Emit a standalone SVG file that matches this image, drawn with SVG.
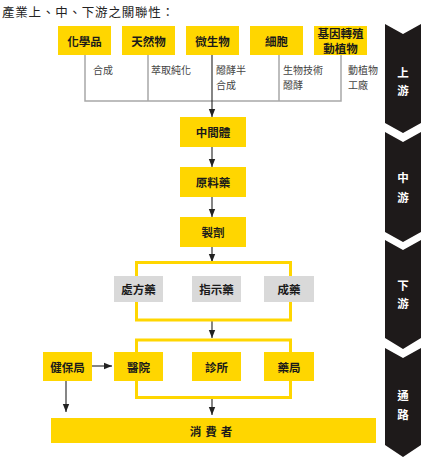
<svg xmlns="http://www.w3.org/2000/svg" width="441" height="459" viewBox="0 0 441 459">
<style>
.y{fill:#FFD600}
.g{fill:#D9D9D9}
.t{font-family:"Noto Sans CJK TC","Noto Sans",sans-serif;font-size:11.5px;font-weight:bold;fill:#1a1a1a;text-anchor:middle;dominant-baseline:central}
.s{font-family:"Noto Sans CJK TC","Noto Sans",sans-serif;font-size:10px;fill:#444;dominant-baseline:central}
.w{font-family:"Noto Sans CJK TC","Noto Sans",sans-serif;font-size:11.5px;font-weight:bold;fill:#fff;text-anchor:middle;dominant-baseline:central}
.gl{stroke:#A8A8A8;stroke-width:1.5;fill:none}
.bl{stroke:#222;stroke-width:1.1;fill:none;marker-end:url(#ah)}
.fr{stroke:#FFD600;stroke-width:3;fill:none}
.band{fill:#1E1A1A}
</style>
<defs>
<marker id="ah" markerUnits="userSpaceOnUse" markerWidth="8" markerHeight="8" viewBox="0 0 8 8" refX="8" refY="4" orient="auto">
<path d="M0,0.8 L8,4 L0,7.2 Z" fill="#222"/>
</marker>
</defs>
<text x="2" y="11" font-family="Noto Sans CJK TC,sans-serif" font-size="12.5" letter-spacing="0.8" fill="#222" dominant-baseline="central">產業上、中、下游之關聯性：</text>

<g id="stage-bands">
<path class="band" d="M385,24 L403,34 L421,24 L421,123 L403,133 L385,123 Z"/>
<path class="band" d="M385,132 L403,142 L421,132 L421,232 L403,242 L385,232 Z"/>
<path class="band" d="M385,240 L403,250 L421,240 L421,338 L403,349 L385,338 Z"/>
<path class="band" d="M385,348 L403,358 L421,348 L421,445 L403,457 L385,445 Z"/>
<text class="w" x="403" y="72">上</text><text class="w" x="403" y="90">游</text>
<text class="w" x="403" y="177">中</text><text class="w" x="403" y="197">游</text>
<text class="w" x="403" y="285">下</text><text class="w" x="403" y="303">游</text>
<text class="w" x="403" y="395">通</text><text class="w" x="403" y="414">路</text>
</g>

<g id="connectors">
<path class="gl" d="M85,55 V101 H341 V55 M148,55 V101 M279,55 V101"/>
<line class="bl" x1="212" y1="55" x2="212" y2="117"/>
<line class="bl" x1="212" y1="147" x2="212" y2="167"/>
<line class="bl" x1="212" y1="197" x2="212" y2="217"/>
<line class="bl" x1="212" y1="247" x2="212" y2="262"/>
<line class="bl" x1="212" y1="321" x2="212" y2="338"/>
<line class="bl" x1="212" y1="398" x2="212" y2="415"/>
<line class="bl" x1="92" y1="366" x2="112" y2="366"/>
<line class="bl" x1="66" y1="381" x2="66" y2="412"/>
<text class="s" x="93" y="69.5">合成</text>
<text class="s" x="151" y="69.5">萃取純化</text>
<text class="s" x="216" y="69.5">醱酵半</text>
<text class="s" x="216" y="84">合成</text>
<text class="s" x="283" y="69.5">生物技術</text>
<text class="s" x="283" y="84">醱酵</text>
<text class="s" x="348" y="69.5">動植物</text>
<text class="s" x="348" y="84">工廠</text>
</g>

<g id="frame-downstream"><rect class="fr" x="136.5" y="262.5" width="154" height="57.5"/></g>
<g id="frame-channel"><rect class="fr" x="136.5" y="340" width="154" height="57.5"/></g>

<g id="chemicals"><rect class="y" x="58" y="26" width="53" height="29"/><text class="t" x="84.5" y="40.5">化學品</text></g>
<g id="natural"><rect class="y" x="122" y="26" width="53" height="29"/><text class="t" x="148.5" y="40.5">天然物</text></g>
<g id="microbe"><rect class="y" x="186" y="26" width="53" height="29"/><text class="t" x="212.5" y="40.5">微生物</text></g>
<g id="cell"><rect class="y" x="250" y="26" width="53" height="29"/><text class="t" x="276.5" y="40.5">細胞</text></g>
<g id="transgenic"><rect class="y" x="314" y="26" width="53" height="29"/><text class="t" x="340.5" y="33">基因轉殖</text><text class="t" x="340.5" y="48">動植物</text></g>

<g id="intermediate"><rect class="y" x="180" y="117" width="66" height="30"/><text class="t" x="213" y="132">中間體</text></g>
<g id="api"><rect class="y" x="180" y="167" width="66" height="30"/><text class="t" x="213" y="182">原料藥</text></g>
<g id="formulation"><rect class="y" x="180" y="217" width="66" height="30"/><text class="t" x="213" y="232">製劑</text></g>

<g id="rx"><rect class="g" x="114" y="276" width="49" height="26"/><text class="t" x="138.5" y="289">處方藥</text></g>
<g id="otc"><rect class="g" x="192" y="276" width="49" height="26"/><text class="t" x="216.5" y="289">指示藥</text></g>
<g id="patent"><rect class="g" x="264" y="276" width="50" height="26"/><text class="t" x="289" y="289">成藥</text></g>

<g id="nhi"><rect class="y" x="43" y="352" width="49" height="29"/><text class="t" x="67.5" y="366.5">健保局</text></g>
<g id="hospital"><rect class="y" x="114" y="352" width="49" height="29"/><text class="t" x="138.5" y="366.5">醫院</text></g>
<g id="clinic"><rect class="y" x="192" y="352" width="49" height="29"/><text class="t" x="216.5" y="366.5">診所</text></g>
<g id="pharmacy"><rect class="y" x="264" y="352" width="50" height="29"/><text class="t" x="289" y="366.5">藥局</text></g>

<g id="consumer"><rect class="y" x="51" y="418" width="325" height="25"/><text class="t" x="213" y="430.5" letter-spacing="4">消費者</text></g>
</svg>
